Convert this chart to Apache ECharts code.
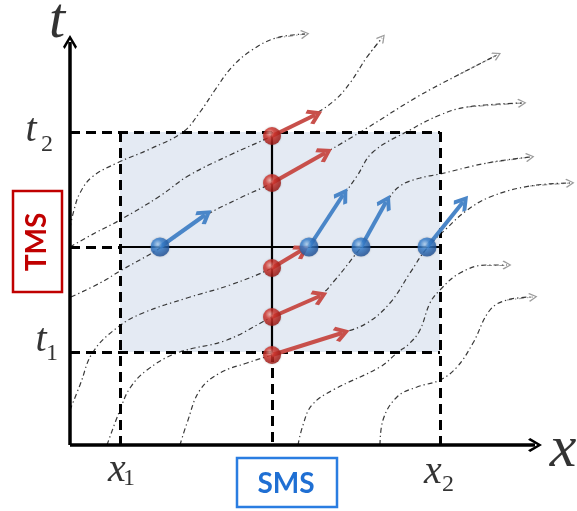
<!DOCTYPE html>
<html><head><meta charset="utf-8">
<script src="https://cdn.jsdelivr.net/npm/echarts@6/dist/echarts.min.js"></script>
<style>html,body{margin:0;padding:0;background:#fff}#c{width:577px;height:511px}</style>
</head><body><div id="c"></div>
<script>
// ---- diagram frame (units: canvas pixels, t grows downward in data) ----
const origin = [70, 445];
const axisEndX = 535;
const axisEndT = 42;
const xTicks = [120, 440];           // x1, x2
const tTicks = [352, 132];           // t1, t2
const smsX = 272;                    // SMS position
const tmsT = 247;                    // TMS time
const xTickLabels = [['x', '1'], ['x', '2']];
const tTickLabels = [['t', '1'], ['t', '2']];
const axisNames = ['x', 't'];

// red detections on SMS line (time of each passage) and velocity tips
const smsTimes = [136, 183, 268, 317, 355];
const smsTips = [[315, 115], [325, 153], [302, 250], [320, 296], [342, 333]];
// blue detections on TMS line (position of each vehicle) and velocity tips
const tmsPositions = [160, 309, 361, 427];
const tmsTips = [[205, 215], [343, 195], [386, 202], [463, 202]];

// vehicle trajectories
const traj1 = [[70,228],[74,210],[80,193],[92,177],[117,163],[150,149],[183,132],[200,112],[215,90],[232,67],[252,50],[276,38],[305,34]];
const traj2 = [[70,247],[95,233],[120,220],[160,196],[188,176],[230,155],[272,136],[313,115],[335,100],[350,83],[367,57],[382,38]];
const traj3 = [[71,297],[100,283],[120,271],[160,248],[205,216],[240,198],[272,183],[325,153],[367,128],[417,97],[460,74],[497,55]];
const traj4 = [[70,410],[80,385],[93,352],[118,327],[143,313],[187,298],[230,285],[272,268],[302,250],[310,243],[343,196],[357,176],[373,152],[410,130],[440,115],[467,107],[522,103]];
const traj5 = [[107,445],[120,410],[130,388],[147,370],[177,353],[227,340],[272,317],[320,295],[335,280],[355,255],[361,247],[388,200],[400,186],[420,178],[440,174],[487,163],[530,157]];
const traj6 = [[180,445],[187,423],[200,390],[220,373],[247,363],[272,355],[342,333],[367,323],[390,303],[410,273],[427,248],[447,228],[466,211],[490,197],[530,186],[570,183]];
const traj7 = [[298,445],[303,425],[312,405],[333,390],[380,367],[397,353],[410,343],[420,330],[430,303],[440,290],[460,273],[487,265],[507,265]];
const traj8 = [[380,445],[383,420],[397,397],[417,387],[440,380],[457,367],[473,343],[490,310],[507,300],[533,297]];
const trajectories = [traj1, traj2, traj3, traj4, traj5, traj6, traj7, traj8];

// ---- styles ----
const thinHead = 'path://M50,0 L100,62 L90,72 L50,18 L10,72 L0,62 Z';
const thickHead = 'path://M50,0 L100,52 L84,66 L50,30 L16,66 L0,52 Z';
const axisHead = 'path://M50,0 L100,66 L88,78 L50,26 L12,78 L0,66 Z';
const serif = 'Liberation Serif';

const redBall = {type:'radial', x:0.38, y:0.35, r:0.7, colorStops:[
  {offset:0, color:'#f6b0a8'}, {offset:0.35, color:'#d8362e'}, {offset:1, color:'#94120e'}]};
const blueBall = {type:'radial', x:0.38, y:0.35, r:0.7, colorStops:[
  {offset:0, color:'#b4d6f6'}, {offset:0.35, color:'#3a84d4'}, {offset:1, color:'#1c4c92'}]};

const chart = echarts.init(document.getElementById('c'));
const series = [];

// shaded observation window
series.push({
  type: 'line', data: [], z: 0,
  markArea: { silent: true, itemStyle: { color: '#e4eaf3' },
    data: [[{ coord: [xTicks[0], tTicks[1]] }, { coord: [xTicks[1], tTicks[0]] }]] }
});

// trajectories
const trajStyle = { color: '#383838', width: 1.2, type: [5, 3, 1.3, 3] };
trajectories.forEach(tr => {
  series.push({
    type: 'line', data: tr, smooth: 0.4, symbol: 'none', z: 2, silent: true,
    lineStyle: trajStyle
  });
});
series.push({
  type: 'lines', coordinateSystem: 'cartesian2d', z: 2, silent: true,
  symbol: ['none', thinHead], symbolSize: [11, 9],
  lineStyle: trajStyle,
  data: trajectories.map(tr => ({ coords: [tr[tr.length - 2], tr[tr.length - 1]] }))
});

// dashed guide lines
const dashed = [
  [[origin[0], tTicks[1]], [xTicks[1], tTicks[1]]],
  [[origin[0], tTicks[0]], [xTicks[1], tTicks[0]]],
  [[origin[0], tmsT], [xTicks[0], tmsT]],
  [[xTicks[0], tTicks[1]], [xTicks[0], origin[1]]],
  [[xTicks[1], tTicks[1]], [xTicks[1], origin[1]]],
  [[smsX, tTicks[0]], [smsX, origin[1]]]
];
series.push({
  type: 'lines', coordinateSystem: 'cartesian2d', z: 3, silent: true,
  lineStyle: { color: '#000', width: 3, type: [10, 6], opacity: 1 },
  data: dashed.map(c => ({ coords: c }))
});
// solid SMS / TMS lines
series.push({
  type: 'lines', coordinateSystem: 'cartesian2d', z: 3, silent: true,
  lineStyle: { color: '#000', width: 2.2, opacity: 1 },
  data: [
    { coords: [[xTicks[0], tmsT], [xTicks[1], tmsT]] },
    { coords: [[smsX, tTicks[1]], [smsX, tTicks[0]]] }
  ]
});
// axes
series.push({
  type: 'lines', coordinateSystem: 'cartesian2d', z: 4, silent: true,
  symbol: ['none', axisHead], symbolSize: [16, 14], symbolOffset: [0, 7],
  lineStyle: { color: '#000', width: 3.5, opacity: 1 },
  data: [
    { coords: [[origin[0], origin[1]], [axisEndX, origin[1]]] },
    { coords: [[origin[0], origin[1]], [origin[0], axisEndT]] }
  ]
});
// velocity arrows
series.push({
  type: 'lines', coordinateSystem: 'cartesian2d', z: 5, silent: true,
  symbol: ['none', thickHead], symbolSize: [20, 16], symbolOffset: [0, 6],
  lineStyle: { color: '#c8504b', width: 4, opacity: 1 },
  data: smsTimes.map((t, i) => ({ coords: [[smsX, t], smsTips[i]] }))
});
series.push({
  type: 'lines', coordinateSystem: 'cartesian2d', z: 5, silent: true,
  symbol: ['none', thickHead], symbolSize: [20, 16], symbolOffset: [0, 6],
  lineStyle: { color: '#4a86c8', width: 4, opacity: 1 },
  data: tmsPositions.map((x, i) => ({ coords: [[x, tmsT], tmsTips[i]] }))
});
// balls
series.push({
  type: 'scatter', z: 6, silent: true, symbolSize: 18,
  itemStyle: { color: redBall, shadowBlur: 2, shadowColor: 'rgba(0,0,0,0.3)' },
  data: smsTimes.map(t => [smsX, t])
});
series.push({
  type: 'scatter', z: 6, silent: true, symbolSize: 19,
  itemStyle: { color: blueBall, shadowBlur: 2, shadowColor: 'rgba(0,0,0,0.3)' },
  data: tmsPositions.map(x => [x, tmsT])
});

// text labels (offsets relative to the tick / axis end they belong to)
const tLabelOffsets = [[-29, -12, -18, 2], [-39, -2, -23, 13]];   // [mainDx, mainDy, subDx, subDy]
const xLabelOffsets = [[-3, 25, 9, 34], [-7, 27, 8, 40]];
const labelPts = [];
function addLabel(pos, text, size, italic) {
  labelPts.push({ value: pos, label: { show: true, formatter: text, position: 'inside',
    fontFamily: serif, fontSize: size, fontStyle: italic ? 'italic' : 'normal', color: '#000' } });
}
tTicks.forEach((t, i) => {
  const o = tLabelOffsets[i];
  addLabel([origin[0] + o[0], t + o[1]], tTickLabels[i][0], 40, true);
  addLabel([origin[0] + o[2], t + o[3]], tTickLabels[i][1], 24, false);
});
xTicks.forEach((x, i) => {
  const o = xLabelOffsets[i];
  addLabel([x + o[0], origin[1] + o[1]], xTickLabels[i][0], 40, true);
  addLabel([x + o[2], origin[1] + o[3]], xTickLabels[i][1], 24, false);
});
addLabel([axisEndX + 28, origin[1] + 5], axisNames[0], 60, true);
addLabel([origin[0] - 13, axisEndT - 20], axisNames[1], 58, true);
series.push({ type: 'scatter', z: 8, silent: true, symbolSize: 2,
  itemStyle: { color: 'rgba(0,0,0,0)' },
  data: labelPts });

chart.setOption({
  animation: false,
  grid: { left: 0, right: 0, top: 0, bottom: 0 },
  xAxis: { type: 'value', min: 0, max: 577, show: false },
  yAxis: { type: 'value', min: 0, max: 511, inverse: true, show: false },
  graphic: [
    { type: 'rect', shape: { x: 13, y: 191, width: 49, height: 101 },
      style: { fill: '#fff', stroke: '#c00000', lineWidth: 2.5 }, z: 10 },
    { type: 'text', x: 37, y: 242, rotation: Math.PI / 2, z: 11,
      style: { text: 'TMS', fill: '#c00000', font: 'bold 28px Lato', textAlign: 'center', textVerticalAlign: 'middle' } },
    { type: 'rect', shape: { x: 237, y: 458, width: 100, height: 49 },
      style: { fill: '#fff', stroke: '#2a7de1', lineWidth: 2.5 }, z: 10 },
    { type: 'text', x: 286, y: 484, z: 11,
      style: { text: 'SMS', fill: '#1f6fd3', font: 'bold 28px Lato', textAlign: 'center', textVerticalAlign: 'middle' } }
  ],
  series: series
});
</script></body></html>
